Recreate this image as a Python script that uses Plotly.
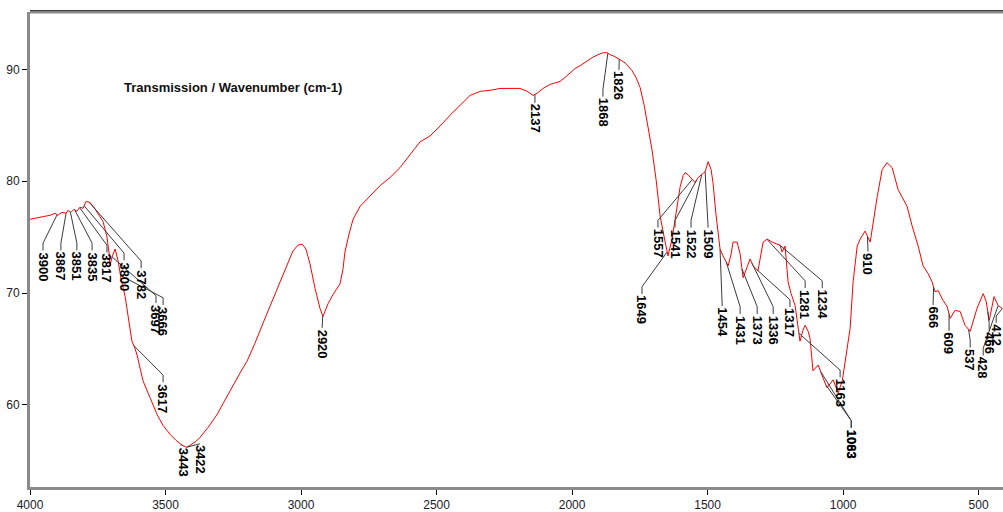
import numpy as np
import plotly.graph_objects as go

# IR transmission spectrum (wavenumber in cm-1, transmission in %)
wavenumber = [
    4000, 3963, 3926, 3908, 3897, 3882, 3867, 3860, 3849, 3838, 3827, 3816, 3804, 3793,
    3779, 3764, 3753, 3742, 3731, 3723, 3716, 3708, 3705, 3697, 3686, 3675, 3664, 3649,
    3638, 3624, 3613, 3605, 3594, 3583, 3557, 3531, 3509, 3483, 3461, 3439, 3421, 3402,
    3387, 3373, 3343, 3310, 3280, 3251, 3225, 3199, 3170, 3133, 3096, 3059, 3030, 3011,
    2996, 2982, 2967, 2948, 2930, 2919, 2900, 2882, 2856, 2845, 2838, 2823, 2808, 2782,
    2745, 2708, 2672, 2635, 2598, 2561, 2524, 2487, 2450, 2413, 2376, 2339, 2303, 2266,
    2229, 2192, 2166, 2144, 2129, 2107, 2081, 2044, 2026, 2007, 1989, 1970, 1948, 1926,
    1904, 1885, 1871, 1860, 1849, 1834, 1823, 1801, 1779, 1764, 1749, 1734, 1719, 1705,
    1690, 1675, 1660, 1646, 1631, 1620, 1609, 1601, 1590, 1583, 1572, 1557, 1546, 1535,
    1520, 1509, 1498, 1487, 1480, 1469, 1454, 1443, 1424, 1413, 1406, 1391, 1380, 1369,
    1354, 1343, 1332, 1314, 1303, 1295, 1280, 1262, 1244, 1233, 1225, 1214, 1203, 1192,
    1177, 1159, 1148, 1140, 1129, 1122, 1111, 1092, 1074, 1059, 1037, 1018, 1003, 985,
    974, 963, 948, 937, 919, 900, 889, 874, 856, 838, 819, 797, 764, 745,
    723, 705, 686, 672, 661, 649, 631, 616, 605, 587, 568, 550, 531, 517,
    506, 483, 472, 461, 450, 443, 428, 413,
]
transmission = [
    76.60, 76.78, 76.96, 77.13, 76.96, 77.22, 77.13, 77.40, 77.22, 77.49, 77.31, 77.67, 77.58, 78.20,
    78.11, 77.67, 77.22, 76.78, 76.42, 75.71, 75.00, 73.50, 72.43, 73.23, 73.94, 72.88, 71.28, 69.68,
    67.73, 65.69, 65.07, 64.45, 63.29, 62.14, 60.63, 59.12, 58.15, 57.35, 56.81, 56.37, 56.19, 56.46,
    56.73, 57.08, 57.97, 59.12, 60.45, 61.78, 62.85, 63.91, 65.51, 67.73, 69.95, 72.17, 73.76, 74.29,
    74.38, 73.94, 72.61, 70.39, 68.62, 67.91, 69.06, 69.86, 70.83, 72.17, 73.67, 75.27, 76.60, 77.76,
    78.73, 79.62, 80.33, 81.22, 82.37, 83.52, 84.06, 84.94, 85.92, 86.81, 87.69, 88.05, 88.14, 88.31,
    88.31, 88.31, 88.05, 87.69, 87.87, 88.31, 88.67, 88.94, 89.29, 89.73, 90.09, 90.35, 90.71, 91.06,
    91.33, 91.51, 91.51, 91.33, 91.24, 91.06, 90.89, 90.53, 89.91, 89.29, 88.40, 86.81, 84.59, 82.81,
    80.15, 76.87, 75.00, 73.32, 74.83, 76.60, 78.38, 79.53, 80.51, 80.77, 80.59, 80.15, 79.88, 80.33,
    80.59, 80.86, 81.75, 81.04, 79.88, 77.05, 73.94, 73.32, 72.43, 73.50, 74.56, 74.56, 73.50, 71.37,
    72.34, 73.05, 72.43, 71.99, 73.50, 74.56, 74.83, 74.56, 74.38, 74.29, 73.67, 74.20, 71.01, 69.95,
    68.88, 65.69, 66.67, 67.11, 66.57, 65.95, 63.03, 63.56, 62.40, 61.52, 62.23, 61.07, 62.14, 65.07,
    66.84, 71.01, 74.20, 74.83, 75.54, 74.56, 76.34, 78.64, 81.04, 81.66, 81.22, 79.26, 77.76, 75.98,
    74.20, 72.43, 71.72, 71.01, 70.12, 70.21, 69.33, 68.79, 67.73, 68.44, 68.35, 67.11, 66.57, 67.73,
    68.62, 69.95, 69.24, 67.55, 69.06, 69.68, 68.88, 68.62,
]

# Picked peaks
peak_wavenumbers = [
    3900, 3867, 3851, 3835, 3817, 3800, 3782, 3697, 3666, 3617, 3443, 3422, 2920, 2137,
    1868, 1826, 1649, 1557, 1541, 1522, 1509, 1454, 1431, 1373, 1336, 1317, 1281, 1234,
    1163, 1083, 1063, 910, 666, 609, 537, 466, 428, 412,
]

# Where each peak label sits (label centre in cm-1, label top in %)
label_x = [
    3952, 3886, 3827, 3771, 3716, 3653, 3590, 3535, 3509, 3509, 3435, 3373, 2922, 2137,
    1886, 1827, 1742, 1683, 1620, 1561, 1498, 1446, 1380, 1317, 1258, 1196, 1140, 1077,
    1011, 970, 970, 908, 668, 609, 531, 461, 483, 435,
]
label_top = [
    73.76, 73.76, 73.76, 73.76, 73.58, 72.87, 72.16, 69.06, 68.88, 61.96, 56.28, 56.46, 66.84, 86.98,
    87.52, 89.91, 69.86, 75.80, 75.80, 75.80, 75.80, 68.79, 68.08, 68.08, 68.08, 68.70, 70.39, 70.39,
    62.40, 57.88, 57.88, 73.67, 68.88, 66.57, 65.07, 66.57, 64.36, 67.28,
]

x_ticks = [4000, 3500, 3000, 2500, 2000, 1500, 1000, 500]
y_ticks = [60, 70, 80, 90]

FONT = "Arial, Liberation Sans, sans-serif"

fig = go.Figure()

fig.add_trace(go.Scatter(
    x=wavenumber, y=transmission, mode="lines",
    line=dict(color="#ff0000", width=1), hoverinfo="skip", showlegend=False,
))

# Leader lines from the spectrum to each label
wn_asc = np.array(wavenumber[::-1], dtype=float)
tr_asc = np.array(transmission[::-1], dtype=float)
lead_x, lead_y = [], []
for p, lx, top in zip(peak_wavenumbers, label_x, label_top):
    yc = float(np.interp(p, wn_asc, tr_asc))
    drop = min(0.7, max(0.05, (yc - top) * 0.5))
    lead_x += [p, lx, lx, None]
    lead_y += [yc, top + drop, top + 0.05, None]

fig.add_trace(go.Scatter(
    x=lead_x, y=lead_y, mode="lines",
    line=dict(color="#3a3a3a", width=1), hoverinfo="skip", showlegend=False,
))

annotations = []
for p, lx, top in zip(peak_wavenumbers, label_x, label_top):
    annotations.append(dict(
        x=lx, y=top, xref="x", yref="y", text=str(p), showarrow=False,
        textangle=90, xanchor="center", yanchor="top", borderpad=0,
        font=dict(family=FONT, size=13, color="#000000", weight="bold"),
    ))

annotations.append(dict(
    x=0.0946, y=0.841, xref="paper", yref="paper",
    text="Transmission / Wavenumber (cm-1)", showarrow=False,
    xanchor="left", yanchor="middle",
    font=dict(family=FONT, size=13, color="#111111", weight="bold"),
))

fig.update_layout(
    width=1003, height=512,
    margin=dict(l=30, r=0, t=12, b=22),
    paper_bgcolor="white", plot_bgcolor="white",
    annotations=annotations,
    shapes=[
        dict(type="line", xref="paper", yref="paper", x0=0, x1=1, y0=1, y1=1,
             line=dict(color="#8a8a8a", width=3)),
        dict(type="line", xref="paper", yref="paper", x0=0, x1=1, y0=1.003, y1=1.003,
             line=dict(color="#333333", width=1)),
    ],
    xaxis=dict(
        range=[4000, 410], tickvals=x_ticks, ticks="outside", ticklen=5,
        tickcolor="#000000", tickwidth=1, showgrid=False, zeroline=False,
        showline=True, linecolor="#8a8a8a", linewidth=3,
        tickfont=dict(family=FONT, size=12, color="#1a1a2a"),
    ),
    yaxis=dict(
        range=[52.64, 95.15], tickvals=y_ticks, ticks="outside", ticklen=5,
        tickcolor="#000000", tickwidth=1, showgrid=False, zeroline=False,
        showline=True, linecolor="#8a8a8a", linewidth=3,
        tickfont=dict(family=FONT, size=12, color="#1a1a2a"),
    ),
)

fig.write_html("out.html")
